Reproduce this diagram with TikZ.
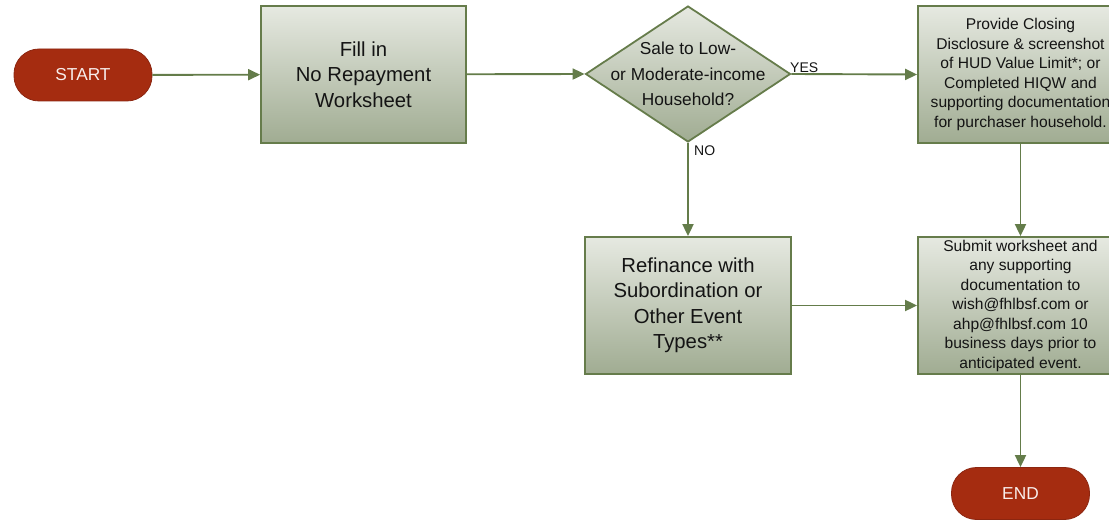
\documentclass[tikz,border=0pt]{standalone}
\usepackage{fontspec}
\setmainfont{Liberation Sans}
\usetikzlibrary{shapes.geometric,arrows.meta}
\definecolor{boxline}{RGB}{102,124,75}
\definecolor{arrowc}{RGB}{100,124,74}
\definecolor{gtop}{RGB}{230,233,225}
\definecolor{gbot}{RGB}{160,172,146}
\definecolor{pillfill}{RGB}{165,44,16}
\definecolor{pillline}{RGB}{140,38,16}
\definecolor{txt}{RGB}{20,20,20}
\tikzset{
  procbox/.style={rectangle, draw=boxline, line width=1.8pt, top color=gtop, bottom color=gbot,
    minimum width=205pt, minimum height=137pt, inner sep=0pt, align=center, text=txt},
  bigtext/.style={font=\fontsize{20.3}{25.5}\selectfont},
  smalltext/.style={font=\fontsize{15.6}{19.5}\selectfont},
  decbox/.style={diamond, draw=boxline, line width=1.8pt, top color=gtop, bottom color=gbot,
    minimum width=205pt, minimum height=136pt, inner sep=0pt, aspect=1.5},
  dectext/.style={align=center, text=txt, font=\fontsize{17.3}{25.5}\selectfont},
  pill/.style={rectangle, rounded corners=25pt, fill=pillfill, draw=pillline, line width=0.8pt,
    minimum width=138pt, minimum height=52pt, text=white!92!pillfill, font=\fontsize{17.3}{20}\selectfont},
  flow/.style={draw=arrowc, line width=1.9pt, -{Triangle[length=12pt,width=11pt]}},
  lbl/.style={text=txt, font=\fontsize{14}{16}\selectfont, inner sep=0pt}
}
\begin{document}
\begin{tikzpicture}[x=1pt,y=-1pt]
\useasboundingbox (0,0) rectangle (1109,521);
\node[pill] (start) at (83,75) {START};
\node[procbox, bigtext] (fill) at (363.5,74.5) {Fill in\\No Repayment\\Worksheet};
\node[decbox] (dec) at (688,74) {};
\node[dectext] (dect) at (dec.center) {Sale to Low-\\or Moderate-income\\Household?};
\node[procbox, smalltext] (prov) at (1020.5,74.5) {Provide Closing\\Disclosure \& screenshot\\of HUD Value Limit*; or\\Completed HIQW and\\supporting documentation\\for purchaser household.};
\node[procbox, bigtext, minimum width=206pt] (refi) at (688,305.5) {Refinance with\\Subordination or\\Other Event\\Types**};
\node[procbox, smalltext] (sub) at (1020.5,305.5) {Submit worksheet and\\any supporting\\documentation to\\wish@fhlbsf.com or\\ahp@fhlbsf.com 10\\business days prior to\\anticipated event.};
\node[pill] (end) at (1020.5,493.5) {END};
\node[lbl, anchor=base west] (yes) at (790,73) {YES};
\node[lbl, anchor=west] (no) at (694,151) {NO};
\draw[flow] (start) -- (fill);
\draw[flow] (fill) -- (dec.west);
\draw[flow] (dec.east) -- (prov.west);
\draw[flow] (dec.south) -- (refi.north);
\draw[flow] (refi.east) -- (sub.west);
\draw[flow] (prov.south) -- (sub.north);
\draw[flow] (sub.south) -- (end.north);
\end{tikzpicture}
\end{document}
